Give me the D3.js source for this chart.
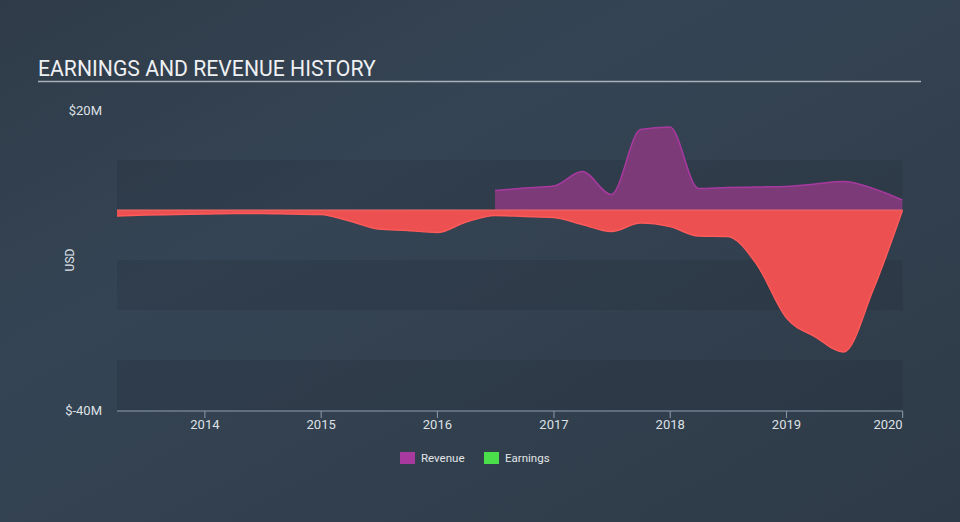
<!DOCTYPE html>
<html><head><meta charset="utf-8">
<script src="https://cdn.jsdelivr.net/npm/d3@7"></script>
<style>
html,body{margin:0;padding:0;background:#333f4d;}
svg{display:block;font-family:Roboto,"Open Sans",sans-serif;}
</style></head>
<body>
<svg id="c" width="960" height="522"></svg>
<script>
const revenueDates = ["2016-06-30","2016-09-30","2016-12-31","2017-03-31","2017-06-30","2017-09-30","2017-12-31","2018-03-31","2018-06-30","2018-09-30","2018-12-31","2019-03-31","2019-06-30","2019-09-30","2019-12-31"];
const revenueValues = [3.9,4.4,4.8,7.7,3.1,16.1,16.6,4.3,4.5,4.6,4.7,5.2,5.7,4.3,2.0];
const earningsDates = ["2013-03-31","2013-06-30","2013-09-30","2013-12-31","2014-03-31","2014-06-30","2014-09-30","2014-12-31","2015-03-31","2015-06-30","2015-09-30","2015-12-31","2016-03-31","2016-06-30","2016-09-30","2016-12-31","2017-03-31","2017-06-30","2017-09-30","2017-12-31","2018-03-31","2018-06-30","2018-09-30","2018-12-31","2019-03-31","2019-06-30","2019-09-30","2019-12-31"];
const earningsValues = [-1.2,-1.0,-0.9,-0.8,-0.7,-0.7,-0.8,-0.9,-2.2,-3.8,-4.1,-4.5,-2.4,-1.1,-1.3,-1.5,-2.9,-4.3,-2.6,-3.3,-5.2,-5.3,-10.9,-21.5,-25.3,-28.4,-16.0,-0.1];
const yTickValues = [20,-40];
const yTickLabels = ["$20M","$-40M"];
const xTickYears = [2014,2015,2016,2017,2018,2019,2020];
const legendNames = ["Revenue","Earnings"];
const legendColors = ["#a8399f","#4ade4a"];

const svg = d3.select("#c");
const W=960,H=522;
const defs = svg.append("defs");
const g = defs.append("linearGradient").attr("id","bg").attr("x1","0").attr("y1","0").attr("x2","1").attr("y2","1");
g.append("stop").attr("offset","0").attr("stop-color","#2f3b48");
g.append("stop").attr("offset","0.35").attr("stop-color","#354454");
g.append("stop").attr("offset","1").attr("stop-color","#2e3a47");
svg.append("rect").attr("width",W).attr("height",H).attr("fill","url(#bg)");

const parse = d3.timeParse("%Y-%m-%d");
const x = d3.scaleTime().domain([parse("2013-03-31"), parse("2020-01-01")]).range([117, 902.7]);
const y = d3.scaleLinear().domain([-40,20]).range([410,110]);

// bands
const bandEdges = d3.range(20,-40,-10);
bandEdges.forEach((v,i)=>{
  if(i%2===1){
    svg.append("rect").attr("x",117).attr("width",902.7-117)
      .attr("y",y(v)).attr("height",y(v-10)-y(v))
      .attr("fill","#000").attr("fill-opacity",0.08);
  }
});

// title
svg.append("text").attr("x",38).attr("y",76).attr("fill","#eef0f2")
  .attr("font-size",21.2).text("EARNINGS AND REVENUE HISTORY");
svg.append("line").attr("x1",38).attr("x2",921).attr("y1",81.5).attr("y2",81.5)
  .attr("stroke","#a9b0b8").attr("stroke-width",1.5);

// y labels
yTickValues.forEach((v,i)=>{
  svg.append("text").attr("x",102).attr("y",y(v)).attr("dy","0.35em")
    .attr("text-anchor","end").attr("fill","#dde1e5").attr("font-size",13).text(yTickLabels[i]);
});
svg.append("text").attr("transform","translate(74,260) rotate(-90)").attr("text-anchor","middle")
  .attr("fill","#dde1e5").attr("font-size",12).text("USD");

const rev = revenueDates.map((d,i)=>({d:parse(d),v:revenueValues[i]}));
const earn = earningsDates.map((d,i)=>({d:parse(d),v:earningsValues[i]}));
const curve = d3.curveMonotoneX;

const area = d3.area().x(p=>x(p.d)).y0(y(0)).y1(p=>y(p.v)).curve(curve);
const line = d3.line().x(p=>x(p.d)).y(p=>y(p.v)).curve(curve);

svg.append("path").datum(rev).attr("d",area).attr("fill","#7c3a78");
svg.append("path").datum(rev).attr("d",line).attr("fill","none").attr("stroke","#a8399f").attr("stroke-width",1.5);
svg.append("path").datum(earn).attr("d",area).attr("fill","#ec5050");
svg.append("path").datum(earn).attr("d",line).attr("fill","none").attr("stroke","#ff5a5a").attr("stroke-width",1.5);
svg.append("line").attr("x1",117).attr("x2",902.7).attr("y1",y(0)).attr("y2",y(0))
  .attr("stroke","#f06a6a").attr("stroke-width",1);

// x axis
const axisY = 411;
svg.append("line").attr("x1",117).attr("x2",902.7).attr("y1",axisY).attr("y2",axisY)
  .attr("stroke","#8d9bab").attr("stroke-width",1);
xTickYears.forEach((yr,i)=>{
  const xx = x(new Date(yr,0,1));
  svg.append("line").attr("x1",xx).attr("x2",xx).attr("y1",axisY).attr("y2",axisY+7)
    .attr("stroke","#8d9bab").attr("stroke-width",1);
  svg.append("text").attr("x",xx).attr("y",429).attr("fill","#dde1e5").attr("font-size",13)
    .attr("text-anchor", i===xTickYears.length-1 ? "end":"middle").text(yr);
});

// legend
const lx=[400,484];
legendNames.forEach((n,i)=>{
  svg.append("rect").attr("x",lx[i]).attr("y",452).attr("width",15).attr("height",12).attr("fill",legendColors[i]);
  svg.append("text").attr("x",lx[i]+21).attr("y",462).attr("fill","#e2e5e8").attr("font-size",11.5).text(n);
});
</script>
</body></html>
